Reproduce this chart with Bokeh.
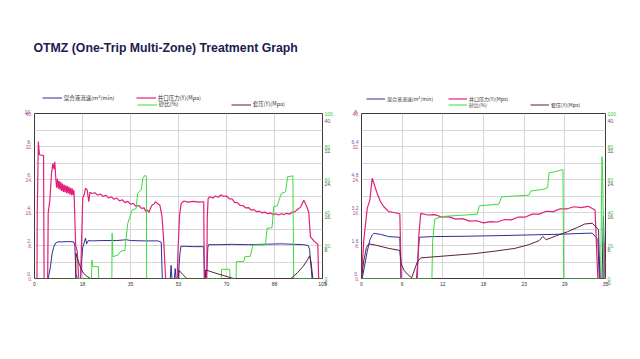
from bokeh.plotting import figure
from bokeh.models import (Range1d, LinearAxis, FixedTicker, Legend, LegendItem, Label)
from bokeh.layouts import row, column
from bokeh.embed import file_html
from bokeh.resources import INLINE

TITLE = "OTMZ (One-Trip Multi-Zone) Treatment Graph"
NAME_RATE = "混合液流速(m³/min)"
NAME_PRES = "井口压力(Y)(Mpa)"
NAME_SAND = "砂比(%)"
NAME_CAS = "套压(Y)(Mpa)"

# ---------------- common axis ticks / labels ----------------
PRES_TICKS = [0, 8, 16, 24, 32, 40]
PRES_LABELS = ["0.", "8.", "16.", "24.", "32.", "40."]
SAND_TICKS = [0, 20, 40, 60, 80, 100]
SAND_LABELS = ["0.", "20.", "40.", "60.", "80.", "100."]

# ---------------- panel 1 ----------------
P1_X_TICKS = [0, 17.5, 35, 52.5, 70, 87.5, 105]
P1_X_LABELS = ["0", "18", "35", "53", "70", "88", "105"]
P1_RATE_TICKS = [0, 2, 4, 6, 8, 10]
P1_RATE_LABELS = ["0.", "2.", "4.", "6.", "8.", "10."]

P1_RATE_T = [0, 5.0, 5.8, 6.4, 7.0, 7.7, 8.5, 10, 12, 14.3, 14.7, 15.1, 15.6, 16.8, 17.2,
             17.6, 18.2, 18.6, 19.0, 19.6, 21, 25, 30, 33.5, 35, 40, 45, 46.2, 46.6, 49.5,
             49.8, 50.1, 51, 51.3, 51.6, 52.4, 53.0, 53.4, 55, 58, 61.7, 62.0, 62.7, 63.2,
             63.5, 67, 72, 78, 85, 90, 95, 98, 99.8, 100.3, 101.2, 105]
P1_RATE = [0, 0, 0.7, 1.5, 1.9, 2.15, 2.22, 2.22, 2.24, 2.22, 2.0, 0.3, 0, 0, 1.2,
           1.9, 2.2, 2.45, 2.1, 2.3, 2.28, 2.3, 2.3, 2.35, 2.3, 2.28, 2.28, 2.2, 0, 0,
           0.8, 0, 0, 0.6, 0, 0, 1.5, 1.95, 1.95, 1.93, 1.93, 0, 0, 1.9,
           2.05, 2.05, 2.07, 2.05, 2.08, 2.1, 2.07, 2.05, 2.0, 1.75, 0, 0]

P1_PRES_T = [0, 0.9, 1.0, 1.4, 1.8, 3.3, 3.5, 4.8, 5.0, 5.6, 6.2, 6.7, 7.1, 7.4,
             7.8, 8.1, 8.4, 8.7, 9.0, 9.3, 9.6, 9.9, 10.2, 10.5, 10.8, 11.1, 11.4, 11.7,
             12.0, 12.3, 12.6, 12.9, 13.2, 13.5, 13.8, 14.1, 14.4, 15.0, 15.6, 16.1, 16.8,
             17.2, 17.6, 18.2, 18.6, 19.2, 19.8, 20.2, 21, 22, 23, 24, 25, 26, 27, 28, 29,
             30, 31, 32, 33, 34, 35, 36, 37, 38, 39, 40, 40.5, 41.2, 41.7, 42.4, 42.9, 43.5,
             44.1, 44.8, 45.7, 46.5, 47.1, 47.8, 52.0, 52.4, 52.9, 53.5, 54.5, 56, 58, 60,
             61.7, 61.9, 62.8, 63.0, 63.3, 64, 65, 66, 67, 68, 69, 70, 71, 72, 73, 74, 75,
             76, 77, 78, 79, 80, 81, 82, 83, 84, 85, 86, 87, 88, 89, 90, 91, 92, 93, 94, 95,
             96, 97, 98.2, 99.2, 100.0, 100.6, 102, 103.3, 103.6, 105]
P1_PRES = [0, 0, 15.4, 33.2, 30.0, 29.8, 0, 0, 15.9, 19.0, 25.5, 27.9, 26.5, 28.3,
           23.9, 22.0, 24.2, 21.8, 23.6, 21.5, 23.4, 21.2, 23.0, 21.0, 22.8, 20.9, 22.6, 20.7,
           22.4, 20.6, 22.2, 20.4, 22.0, 20.2, 21.8, 20.2, 21.4, 8.0, 6.5, 0, 0,
           10, 19.5, 20.5, 21.9, 21.5, 18.6, 20.9, 20.6, 20.8, 20.2, 20.5, 19.9, 20.2, 19.5,
           19.8, 19.2, 19.5, 18.8, 19.1, 18.4, 18.7, 18.0, 18.2, 17.5, 17.7, 17.0, 17.1,
           16.3, 16.6, 16.0, 17.2, 17.8, 18.0, 18.6, 18.2, 17.8, 15.0, 9.3, 0, 0, 8, 15.5,
           18.2, 18.8, 18.5, 18.7, 18.5, 18.6, 0, 0, 15, 19.4, 19.8, 19.5, 20.0, 19.7, 20.3,
           19.9, 20.0, 19.3, 19.3, 18.4, 18.4, 17.7, 17.7, 17.1, 17.2, 16.6, 16.7, 16.2,
           16.3, 15.9, 16.1, 15.7, 15.9, 15.5, 15.7, 15.4, 15.7, 15.5, 15.8, 15.6, 16.1,
           16.2, 16.8, 17.3, 19.0, 17.5, 16.0, 10.1, 9.0, 8.3, 0, 0]

P1_SAND_T = [0, 20.8, 20.9, 21.3, 23.3, 23.4, 28.2, 28.3, 28.6, 30.6, 31.4, 33.0, 33.2,
             34.0, 35.6, 37.1, 37.6, 38.9, 39.5, 40.4, 40.8, 40.9, 68.1, 68.2, 71.2, 71.3,
             73.5, 73.6, 76.3, 76.7, 78.7, 79.6, 84.2, 84.8, 86.6, 87.2, 88.5, 90.0, 91.5,
             92.3, 94.2, 94.5, 105]
P1_SAND = [0, 0, 11.2, 7.2, 7.2, 0, 0, 27.4, 13.2, 14.4, 16.6, 17.0, 21.3,
           33.4, 41.5, 42.5, 51.6, 53.6, 60.7, 62.7, 61.5, 0, 0, 5.6, 5.6, 0,
           0, 10.2, 10.2, 13.2, 13.5, 20.3, 20.3, 30.4, 30.8, 43.5, 44.0, 51.6, 52.5,
           61.7, 62.2, 0, 0]

P1_CAS_T = [0, 15.0, 15.1, 15.6, 16.3, 17.0, 18.0, 19.2, 20.4, 52.6, 52.7, 54.0, 55.5,
            62.3, 62.4, 65, 68, 70.5, 72.6, 93.5, 96, 98, 99.5, 100.3, 100.8, 101.5, 105]
P1_CAS = [0, 0, 6.1, 5.0, 3.5, 2.3, 1.2, 0.5, 0, 0, 2.0, 1.0, 0,
          0, 2.1, 1.5, 0.9, 0.4, 0, 0, 1.5, 3.0, 4.5, 5.5, 4.0, 0, 0]

# ---------------- panel 2 ----------------
P2_X_TICKS = [0, 35 / 6, 70 / 6, 17.5, 140 / 6, 175 / 6, 35]
P2_X_LABELS = ["0", "6", "12", "18", "23", "29", "35"]
P2_RATE_TICKS = [0, 1.6, 3.2, 4.8, 6.4, 8]
P2_RATE_LABELS = ["0.", "1.6", "3.2", "4.8", "6.4", "8."]

P2_RATE_T = [0, 0.1, 0.82, 1.2, 1.53, 1.77, 2.73, 3.9, 5.5, 5.65, 7.9, 8.3, 10, 15, 20,
             25, 29, 31, 33.1, 33.9, 34.1, 34.5, 34.7, 34.9, 35]
P2_RATE = [0, 0, 1.3, 1.87, 2.11, 2.19, 2.14, 2.03, 2.0, 0, 0, 2.0, 2.03, 2.05, 2.08,
           2.12, 2.15, 2.18, 2.2, 1.9, 0, 0, 3.0, 0.2, 0]

P2_PRES_T = [0, 0.33, 0.82, 1.2, 1.53, 1.77, 2.25, 2.73, 3.2, 3.9, 4.6, 5.5, 5.7, 8.0,
             8.2, 8.5, 9.5, 10.5, 11.5, 12.5, 13.5, 14.5, 15.5, 16.5, 17.5, 18.5, 19.5,
             20.5, 21.5, 22.5, 23.5, 24.5, 25.5, 26.5, 27.5, 28.5, 29.5, 30.5, 31.5, 32.5,
             33.5, 33.9, 34.7, 34.85, 34.95, 35]
P2_PRES = [0, 9.3, 17.0, 19.0, 24.3, 23.1, 20.6, 18.6, 17.4, 16.2, 16.0, 15.7, 0, 0,
           10, 15.8, 15.4, 15.5, 14.9, 15.0, 14.4, 14.5, 13.9, 14.0, 13.5, 13.8, 13.7,
           14.3, 14.2, 14.9, 14.9, 15.6, 15.6, 16.3, 16.2, 16.9, 16.9, 17.4, 17.2, 17.5,
           16.6, 0, 0, 8.6, 0, 0]

P2_SAND_T = [0, 10.1, 10.2, 10.5, 11.5, 13, 15, 16.6, 16.9, 18, 19.7, 20.1, 22, 24, 24.3,
             26, 26.7, 26.9, 28, 28.9, 29.0, 34.3, 34.5, 34.6, 34.8, 35]
P2_SAND = [0, 0, 22, 36, 37.5, 38, 38.5, 39, 44, 44.5, 45, 49.5, 50, 50.5, 53,
           54, 55, 64, 65, 66, 0, 0, 73.8, 60, 0, 0]

P2_CAS_T = [0, 0.3, 0.7, 1.05, 2, 3.9, 5.5, 5.7, 6.1, 6.6, 7.2, 8.0, 8.5, 10, 13, 16, 19,
            22, 24, 25.5, 26, 26.5, 28, 29.5, 31, 32, 33.1, 33.8, 34.0, 34.2, 35]
P2_CAS = [0, 4, 7.5, 8.4, 8.1, 7.3, 6.8, 3.5, 2.0, 1.0, 0.2, 4.0, 5.0, 5.2, 5.6, 6.0, 6.6,
          7.3, 8.2, 9.2, 10.2, 9.4, 10.4, 11.3, 12.4, 13.2, 13.4, 12.2, 11.8, 0, 0]

C_RATE = "#2d2d9c"
C_PRES = "#e2207a"
C_SAND = "#3ddc3d"
C_CAS = "#5e1f3c"
C_RATE_LBL = "#6a5aa8"
C_PRES_LBL = "#d8408a"
C_SAND_LBL = "#44c044"
C_CAS_LBL = "#555555"
GRID = "#d6d6d6"

HEAD_H = 108
PANEL_H = 190


def style_axis(ax, color, standoff):
    ax.axis_line_color = None
    ax.major_tick_line_color = None
    ax.minor_tick_line_color = None
    ax.major_tick_out = 0
    ax.major_tick_in = 0
    ax.minor_tick_out = 0
    ax.minor_tick_in = 0
    ax.major_label_standoff = standoff
    ax.major_label_text_font = "Liberation Sans"
    ax.major_label_text_font_size = "5px"
    ax.major_label_text_color = color


def build(width, bl, br, xmax, x_ticks, x_labels, rate_max, rate_ticks, rate_labels, data):
    p = figure(width=width, height=PANEL_H, x_range=Range1d(0, xmax),
               y_range=Range1d(0, 40), output_backend="svg", toolbar_location=None,
               title=None, min_border_left=bl, min_border_right=br, min_border_top=5,
               min_border_bottom=20)
    p.extra_y_ranges = {"rate": Range1d(0, rate_max), "sand": Range1d(0, 100)}
    p.background_fill_color = "white"
    p.border_fill_color = "white"
    p.outline_line_color = "#3c3c3c"
    p.outline_line_width = 1

    p.xgrid.ticker = FixedTicker(ticks=x_ticks)
    p.ygrid.ticker = FixedTicker(ticks=[PRES_TICKS[-1] * i / 10 for i in range(11)])
    for g in (p.xgrid[0], p.ygrid[0]):
        g.grid_line_color = GRID
        g.grid_line_width = 1

    # bottom: time
    xa = p.xaxis[0]
    xa.ticker = FixedTicker(ticks=x_ticks)
    xa.major_label_overrides = {t: l for t, l in zip(x_ticks, x_labels)}
    style_axis(xa, "#333333", 3)
    # left inner: wellhead pressure
    ya = p.yaxis[0]
    ya.ticker = FixedTicker(ticks=PRES_TICKS)
    ya.major_label_overrides = {t: l for t, l in zip(PRES_TICKS, PRES_LABELS)}
    style_axis(ya, C_PRES_LBL, 2)
    # left outer: rate (label drawn on the line above the pressure label)
    ba = LinearAxis(y_range_name="rate", ticker=FixedTicker(ticks=rate_ticks))
    ba.major_label_overrides = {t: l + "\n" for t, l in zip(rate_ticks, rate_labels)}
    style_axis(ba, C_RATE_LBL, -9)
    ba.major_label_text_line_height = 1.4
    p.add_layout(ba, "left")
    # right inner: sand ratio
    ra = LinearAxis(y_range_name="sand", ticker=FixedTicker(ticks=SAND_TICKS))
    ra.major_label_overrides = {t: l for t, l in zip(SAND_TICKS, SAND_LABELS)}
    style_axis(ra, C_SAND_LBL, 2)
    p.add_layout(ra, "right")
    # right outer: casing pressure (label drawn on the line below the sand label)
    ca = LinearAxis(ticker=FixedTicker(ticks=PRES_TICKS))
    ca.major_label_overrides = {t: "\n" + l for t, l in zip(PRES_TICKS, PRES_LABELS)}
    style_axis(ca, C_CAS_LBL, -13)
    ca.major_label_text_line_height = 1.6
    p.add_layout(ca, "right")

    rt, rv, pt, pv, st, sv, ct, cv = data
    p.line(rt, rv, line_color=C_RATE, line_width=1, y_range_name="rate")
    p.line(pt, pv, line_color=C_PRES, line_width=1.2)
    p.line(st, sv, line_color=C_SAND, line_width=1, y_range_name="sand")
    p.line(ct, cv, line_color=C_CAS, line_width=1)
    return p


# ---------------- header: title + legends ----------------
head = figure(width=632, height=HEAD_H, x_range=Range1d(0, 632),
              y_range=Range1d(0, HEAD_H), output_backend="svg", toolbar_location=None,
              title=None, x_axis_location=None, y_axis_location=None,
              min_border=0, min_border_left=0, min_border_right=0, min_border_top=0,
              min_border_bottom=0)
head.outline_line_color = None
head.xgrid.visible = False
head.ygrid.visible = False
head.add_layout(Label(x=33, y=61, text=TITLE, text_font="Liberation Sans",
                      text_font_size="12.3px", text_font_style="bold",
                      text_color="#1b2050", text_baseline="middle"))

# legend-only line renderers (kept outside the visible header range)
OFF = [-100, -90]
h_rate = head.line(OFF, OFF, line_color=C_RATE, line_width=1)
h_pres = head.line(OFF, OFF, line_color=C_PRES, line_width=1.2)
h_sand = head.line(OFF, OFF, line_color=C_SAND, line_width=1)
h_cas = head.line(OFF, OFF, line_color=C_CAS, line_width=1)


def mk_legend(items, loc, font, lw, gw):
    return Legend(items=items, orientation="horizontal", location=loc,
                  label_text_font="Noto Sans CJK SC", label_text_font_size=font,
                  label_text_color="#333333", glyph_width=gw, glyph_height=5,
                  label_standoff=2, label_width=lw, label_height=5,
                  padding=0, spacing=0, margin=0, border_line_color=None,
                  background_fill_alpha=0)


for (x1, x2, font, lw, gw) in ((41.7, 136.7, "5.5px", 72, 20), (366, 448, "5px", 61, 19)):
    head.add_layout(mk_legend([LegendItem(label=NAME_RATE, renderers=[h_rate]),
                               LegendItem(label=NAME_PRES, renderers=[h_pres])],
                              (x1, 6.5), font, lw, gw))
    head.add_layout(mk_legend([LegendItem(label=NAME_SAND, renderers=[h_sand]),
                               LegendItem(label=NAME_CAS, renderers=[h_cas])],
                              (x2, 0), font, lw, gw))

p1 = build(340, 34, 18, 105, P1_X_TICKS, P1_X_LABELS, 10, P1_RATE_TICKS, P1_RATE_LABELS,
           (P1_RATE_T, P1_RATE, P1_PRES_T, P1_PRES, P1_SAND_T, P1_SAND, P1_CAS_T, P1_CAS))
p2 = build(292, 21, 27, 35, P2_X_TICKS, P2_X_LABELS, 8, P2_RATE_TICKS, P2_RATE_LABELS,
           (P2_RATE_T, P2_RATE, P2_PRES_T, P2_PRES, P2_SAND_T, P2_SAND, P2_CAS_T, P2_CAS))

layout = column(head, row(p1, p2))
open("out.html", "w").write(file_html(layout, INLINE))
